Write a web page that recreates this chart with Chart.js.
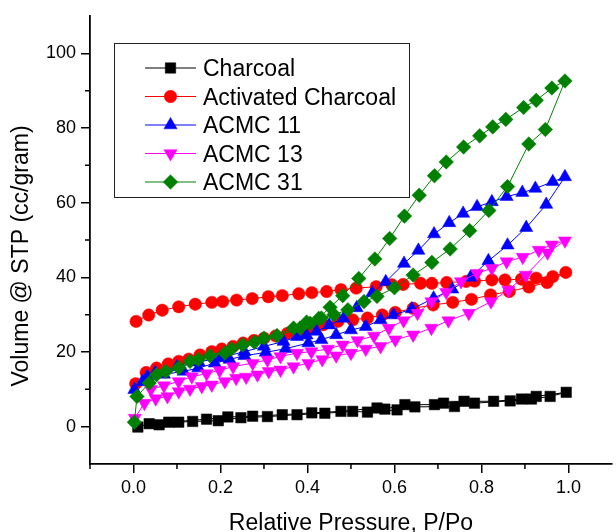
<!DOCTYPE html>
<html>
<head>
<meta charset="utf-8">
<script src="https://cdn.jsdelivr.net/npm/chart.js@4/dist/chart.umd.min.js"></script>
<style>
html,body{margin:0;padding:0;background:#fff;overflow:hidden;width:616px;height:532px;}
#wrap{width:620px;height:532px;position:relative;}
canvas{display:block;}
</style>
</head>
<body>
<div id="wrap"><canvas id="c" width="620" height="532" style="width:620px;height:532px"></canvas></div>
<script>
// ---- Axis / text data ----
const xTitle = 'Relative Pressure, P/Po';
const yTitle = 'Volume @ STP (cc/gram)';
const xTickValues = [0.0, 0.2, 0.4, 0.6, 0.8, 1.0];
const yTickValues = [0, 20, 40, 60, 80, 100];
const xMinorValues = [-0.1, 0.1, 0.3, 0.5, 0.7, 0.9];
const yMinorValues = [10, 30, 50, 70, 90];
const seriesNames = ['Charcoal', 'Activated Charcoal', 'ACMC 11', 'ACMC 13', 'ACMC 31'];

// ---- Series values (adsorption then desorption, in measured order) ----
const charcoalX = [0.01,0.036,0.059,0.104,0.136,0.195,0.247,0.308,0.376,0.44,0.504,0.538,0.606,0.647,0.738,0.784,0.866,0.915,0.958,0.995,
                   0.926,0.892,0.828,0.76,0.713,0.692,0.624,0.578,0.56,0.477,0.41,0.342,0.274,0.217,0.168,0.081];
const charcoalY = [-0.1,0.8,0.5,1.2,1.4,1.6,2.4,2.7,3.2,3.6,4.1,3.9,4.5,5.3,5.4,6.3,6.9,7.4,8.1,9.2,
                   8.1,7.4,6.8,6.8,6.3,5.9,5.9,4.7,5.0,4.1,3.7,3.2,2.8,2.6,2.0,1.2];

const activatedX = [0.005,0.029,0.053,0.08,0.104,0.127,0.153,0.18,0.203,0.229,0.252,0.277,0.30,0.327,0.354,0.38,0.406,0.436,0.47,0.504,0.538,0.572,0.602,0.643,0.689,0.734,0.777,0.821,0.864,0.909,0.951,0.994,
                    0.964,0.926,0.892,0.854,0.824,0.784,0.765,0.72,0.686,0.66,0.62,0.594,0.558,0.512,0.477,0.444,0.41,0.38,0.342,0.31,0.273,0.237,0.205,0.18,0.142,0.104,0.066,0.035,0.006];
const activatedY = [11.5,14.5,15.7,16.8,17.5,18.1,19.2,20.1,20.8,21.5,22.4,23.1,23.7,24.3,25.0,25.7,26.4,27.3,28.2,28.6,29.1,29.9,30.6,31.7,32.6,33.3,34.1,35.3,36.2,37.4,38.6,41.3,
                    40.2,39.8,39.5,39.3,39.3,39.0,38.9,38.6,38.4,38.4,38.1,38.0,37.5,37.1,36.7,36.2,35.9,35.6,35.1,34.8,34.3,33.9,33.5,33.3,32.8,32.1,31.2,29.9,28.2];

const acmc11X = [0.002,0.032,0.07,0.115,0.149,0.187,0.221,0.255,0.304,0.35,0.402,0.432,0.466,0.5,0.534,0.568,0.598,0.64,0.69,0.733,0.775,0.816,0.86,0.903,0.949,0.992,
                 0.964,0.924,0.894,0.858,0.824,0.79,0.758,0.726,0.691,0.655,0.622,0.58,0.549,0.513,0.483,0.45,0.421,0.398,0.376,0.345,0.30,0.255,0.2,0.15,0.1,0.05,0.02];
const acmc11Y = [9.9,13.4,14.0,14.8,15.7,17.0,18.0,19.0,19.9,20.9,22.4,23.3,24.6,25.9,26.8,28.6,29.9,31.5,34.4,36.8,40.0,44.4,48.6,53.3,59.5,66.9,
                 65.6,63.8,62.7,61.6,60.2,58.9,57.1,54.6,51.6,47.2,43.7,38.8,35.8,31.8,29.0,27.2,25.5,24.5,24.1,22.8,21.5,20.1,18.5,17.3,16.0,14.5,12.0];

const acmc13X = [0.003,0.025,0.051,0.078,0.104,0.13,0.157,0.18,0.21,0.236,0.259,0.285,0.311,0.338,0.368,0.402,0.434,0.466,0.5,0.534,0.568,0.602,0.643,0.685,0.724,0.771,0.822,0.862,0.902,0.952,0.992,
                 0.962,0.932,0.895,0.858,0.824,0.79,0.753,0.719,0.685,0.653,0.621,0.587,0.553,0.515,0.481,0.447,0.409,0.376,0.338,0.308,0.274,0.229,0.198,0.168,0.134,0.104,0.07,0.04];
const acmc13Y = [2.3,6.3,7.5,8.1,9.4,10.1,10.8,11.2,12.1,13.0,13.3,13.9,14.8,15.2,16.1,17.0,18.0,19.0,19.7,20.8,21.5,23.3,24.6,26.4,28.4,30.4,33.5,36.6,40.6,46.6,49.8,
                 48.7,47.3,45.4,44.2,42.4,41.1,38.9,36.0,33.5,30.4,28.4,26.4,24.3,23.1,21.9,20.8,20.1,19.7,18.8,17.9,17.0,16.1,15.1,14.2,13.4,12.1,11.0,10.0];

const acmc31X = [0.002,0.008,0.036,0.074,0.104,0.149,0.176,0.225,0.278,0.33,0.383,0.406,0.432,0.461,0.493,0.53,0.56,0.6,0.643,0.686,0.728,0.773,0.817,0.86,0.909,0.947,0.992,
                 0.962,0.926,0.897,0.856,0.826,0.796,0.759,0.719,0.692,0.657,0.623,0.589,0.555,0.518,0.481,0.452,0.426,0.398,0.368,0.30,0.251,0.21,0.13,0.053];
const acmc31Y = [1.2,8.1,11.7,14.8,15.8,18.0,19.0,20.8,22.6,24.4,26.4,27.7,29.1,30.0,31.3,33.5,34.9,37.2,40.6,44.0,47.6,52.5,57.9,64.3,75.7,79.6,92.6,
                 90.7,87.4,85.5,82.3,80.3,77.9,74.9,70.9,67.2,62.0,56.4,50.4,44.9,39.7,35.1,32.0,29.0,28.0,26.4,23.7,21.9,19.7,17.5,13.9];

function pts(xs, ys){ return xs.map((x,i)=>({x:x, y:ys[i]})); }

const FONT = '"Liberation Sans", Arial, Helvetica, sans-serif';

const styles = [
  {color:'#000000', pointStyle:'rect', radius:7.4, rotation:0, order:4},
  {color:'#ff0000', pointStyle:'circle', radius:6.2, rotation:0, order:3},
  {color:'#0000ff', pointStyle:'triangle', radius:7.6, rotation:0, order:2},
  {color:'#ff00ff', pointStyle:'triangle', radius:7.6, rotation:180, order:1},
  {color:'#008000', pointStyle:'rectRot', radius:7.3, rotation:0, order:0}
];
const seriesData = [pts(charcoalX,charcoalY), pts(activatedX,activatedY), pts(acmc11X,acmc11Y), pts(acmc13X,acmc13Y), pts(acmc31X,acmc31Y)];

const datasets = seriesData.map((d,i)=>({
  label: seriesNames[i],
  data: d,
  showLine: true,
  borderColor: styles[i].color,
  borderWidth: 1,
  backgroundColor: styles[i].color,
  pointBackgroundColor: styles[i].color,
  pointBorderColor: styles[i].color,
  pointBorderWidth: 0.5,
  pointStyle: styles[i].pointStyle,
  pointRotation: styles[i].rotation,
  pointRadius: styles[i].radius,
  tension: 0,
  order: styles[i].order
}));

function drawMarker(ctx, style, x, y){
  if (Chart.helpers && Chart.helpers.drawPoint) {
    ctx.fillStyle = style.color; ctx.strokeStyle = style.color; ctx.lineWidth = 0.5;
    Chart.helpers.drawPoint(ctx, {pointStyle: style.pointStyle, radius: style.radius, rotation: style.rotation, borderWidth: 0.5}, x, y);
  }
}

const decor = {
  id: 'decor',
  afterDraw(chart){
    const ctx = chart.ctx, a = chart.chartArea, xs = chart.scales.x, ys = chart.scales.y;
    ctx.save();
    // minor ticks
    ctx.strokeStyle = '#000'; ctx.lineWidth = 1.5;
    ctx.beginPath();
    xMinorValues.forEach(v=>{ const px = xs.getPixelForValue(v); ctx.moveTo(px, a.bottom); ctx.lineTo(px, a.bottom+5); });
    yMinorValues.forEach(v=>{ const py = ys.getPixelForValue(v); ctx.moveTo(a.left-5, py); ctx.lineTo(a.left, py); });
    ctx.stroke();
    // axis titles
    ctx.fillStyle = '#000';
    ctx.font = '23px ' + FONT;
    ctx.textAlign = 'center'; ctx.textBaseline = 'alphabetic';
    ctx.fillText(xTitle, (a.left + a.right)/2, 530);
    ctx.save();
    ctx.translate(22, 256); ctx.rotate(-Math.PI/2);
    ctx.textBaseline = 'middle';
    ctx.fillText(yTitle, 0, 0);
    ctx.restore();
    // legend
    const bx = 114, by = 43, bw = 295, bh = 154;
    ctx.fillStyle = '#fff'; ctx.fillRect(bx, by, bw, bh);
    ctx.strokeStyle = '#222'; ctx.lineWidth = 1;
    ctx.strokeRect(bx+0.5, by+0.5, bw, bh);
    const baselines = [76, 104.5, 133, 161.5, 190];
    ctx.font = '23px ' + FONT; ctx.textAlign = 'left'; ctx.textBaseline = 'alphabetic';
    seriesNames.forEach((name,i)=>{
      const cy = baselines[i] - 8;
      ctx.strokeStyle = styles[i].color; ctx.lineWidth = 1;
      ctx.beginPath(); ctx.moveTo(145, cy); ctx.lineTo(196, cy); ctx.stroke();
      drawMarker(ctx, styles[i], 170.5, cy);
      ctx.fillStyle = '#000';
      ctx.fillText(name, 203, baselines[i]);
    });
    ctx.restore();
  }
};

new Chart(document.getElementById('c'), {
  type: 'scatter',
  data: { datasets: datasets },
  options: {
    responsive: false,
    animation: false,
    devicePixelRatio: 1,
    layout: { padding: { top: 16, left: 0, right: 0, bottom: 0 } },
    plugins: { legend: { display: false }, tooltip: { enabled: false }, title: { display: false } },
    scales: {
      x: {
        type: 'linear', min: -0.1, max: 1.1,
        afterBuildTicks: s => { s.ticks = xTickValues.map(v=>({value:v})); },
        afterFit: s => { s.height = 68; },
        ticks: { color:'#000', font:{family: FONT, size: 18}, padding: 4, maxRotation: 0,
                 callback: v => Number(v).toFixed(1) },
        grid: { display: true, drawOnChartArea: false, drawTicks: true, tickLength: 9, color:'#000', lineWidth: 1.5 },
        border: { display: true, color:'#000', width: 1.8 },
        title: { display: false }
      },
      y: {
        type: 'linear', min: -10, max: 110,
        afterBuildTicks: s => { s.ticks = yTickValues.map(v=>({value:v})); },
        afterFit: s => { s.width = 90; },
        ticks: { color:'#000', font:{family: FONT, size: 18}, padding: 5,
                 callback: v => String(v) },
        grid: { display: true, drawOnChartArea: false, drawTicks: true, tickLength: 9, color:'#000', lineWidth: 1.5 },
        border: { display: true, color:'#000', width: 1.8 },
        title: { display: false }
      }
    }
  },
  plugins: [decor]
});
</script>
</body>
</html>
